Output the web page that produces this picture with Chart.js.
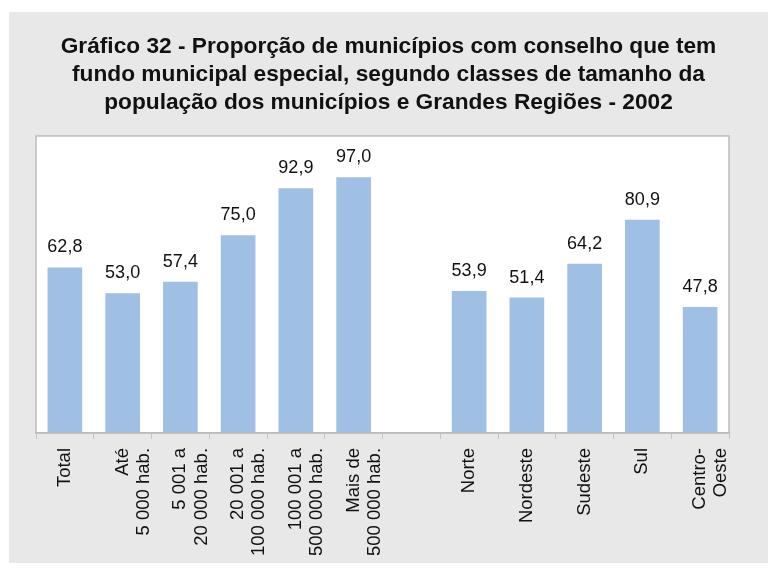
<!DOCTYPE html>
<html>
<head>
<meta charset="utf-8">
<script src="https://cdn.jsdelivr.net/npm/chart.js@4"></script>
<style>
  html, body { margin: 0; padding: 0; background: #ffffff; }
  #box { position: absolute; left: 9px; top: 12px; width: 759px; height: 551px; background: #e8e8e8; }
</style>
</head>
<body>
<div id="box"><canvas id="chart" width="759" height="551"></canvas></div>
<script>
// categories (the empty one is the gap between the two groups)
const categories = [
  'Total',
  ['Até', '5 000 hab.'],
  ['5 001 a', '20 000 hab.'],
  ['20 001 a', '100 000 hab.'],
  ['100 001 a', '500 000 hab.'],
  ['Mais de', '500 000 hab.'],
  '',
  'Norte',
  'Nordeste',
  'Sudeste',
  'Sul',
  ['Centro-', 'Oeste']
];
const values = [62.8, 53.0, 57.4, 75.0, 92.9, 97.0, null, 53.9, 51.4, 64.2, 80.9, 47.8];
const titleLines = [
  'Gráfico 32 - Proporção de municípios com conselho que tem',
  'fundo municipal especial, segundo classes de tamanho da',
  'população dos municípios e Grandes Regiões - 2002'
];

const FONT = '"Liberation Sans", Arial, sans-serif';

const plotFrame = {
  id: 'plotFrame',
  beforeDraw(chart) {
    const a = chart.chartArea, ctx = chart.ctx;
    ctx.save();
    ctx.fillStyle = '#ffffff';
    ctx.fillRect(a.left, a.top, a.right - a.left, a.bottom - a.top);
    ctx.restore();
  },
  afterDraw(chart) {
    const a = chart.chartArea, ctx = chart.ctx;
    ctx.save();
    ctx.strokeStyle = '#bcbcbc';
    ctx.lineWidth = 1.5;
    ctx.strokeRect(a.left, a.top, a.right - a.left, a.bottom - a.top);
    ctx.restore();
  }
};

const barLabels = {
  id: 'barLabels',
  afterDatasetsDraw(chart) {
    const ctx = chart.ctx;
    const meta = chart.getDatasetMeta(0);
    ctx.save();
    ctx.font = '18px ' + FONT;
    ctx.fillStyle = '#111111';
    ctx.textAlign = 'center';
    ctx.textBaseline = 'alphabetic';
    meta.data.forEach((bar, i) => {
      const v = values[i];
      if (v === null) return;
      ctx.fillText(v.toFixed(1).replace('.', ','), bar.x, bar.y - 15);
    });
    ctx.restore();
  }
};

new Chart(document.getElementById('chart'), {
  type: 'bar',
  data: {
    labels: categories,
    datasets: [{
      data: values,
      backgroundColor: '#9fbfe5',
      barPercentage: 0.6,
      categoryPercentage: 1
    }]
  },
  options: {
    responsive: false,
    animation: false,
    layout: { padding: { left: 0, right: 0, top: 0, bottom: 8 } },
    plugins: {
      legend: { display: false },
      tooltip: { enabled: false },
      title: {
        display: true,
        text: titleLines,
        color: '#111111',
        font: { family: FONT, size: 22.7, weight: 'bold', lineHeight: 1.233 },
        padding: { top: 21, bottom: 19 }
      }
    },
    scales: {
      x: {
        grid: { offset: true, drawOnChartArea: false, drawTicks: true, tickLength: 6, color: '#c4c4d4' },
        border: { display: true, color: '#bcbcbc', width: 1.5 },
        ticks: {
          color: '#111111',
          font: { family: FONT, size: 18.5, lineHeight: 1.15 },
          minRotation: 90,
          maxRotation: 90,
          autoSkip: false,
          padding: 9
        },
        afterFit(scale) { scale.height -= 10; }
      },
      y: {
        min: 0,
        max: 112.7,
        grid: { display: false },
        border: { display: false },
        ticks: { display: false },
        afterFit(scale) { scale.width = 27; }
      },
      yRight: {
        position: 'right',
        min: 0,
        max: 1,
        grid: { display: false },
        border: { display: false },
        ticks: { display: false },
        afterFit(scale) { scale.width = 39; }
      }
    }
  },
  plugins: [plotFrame, barLabels]
});
</script>
</body>
</html>
